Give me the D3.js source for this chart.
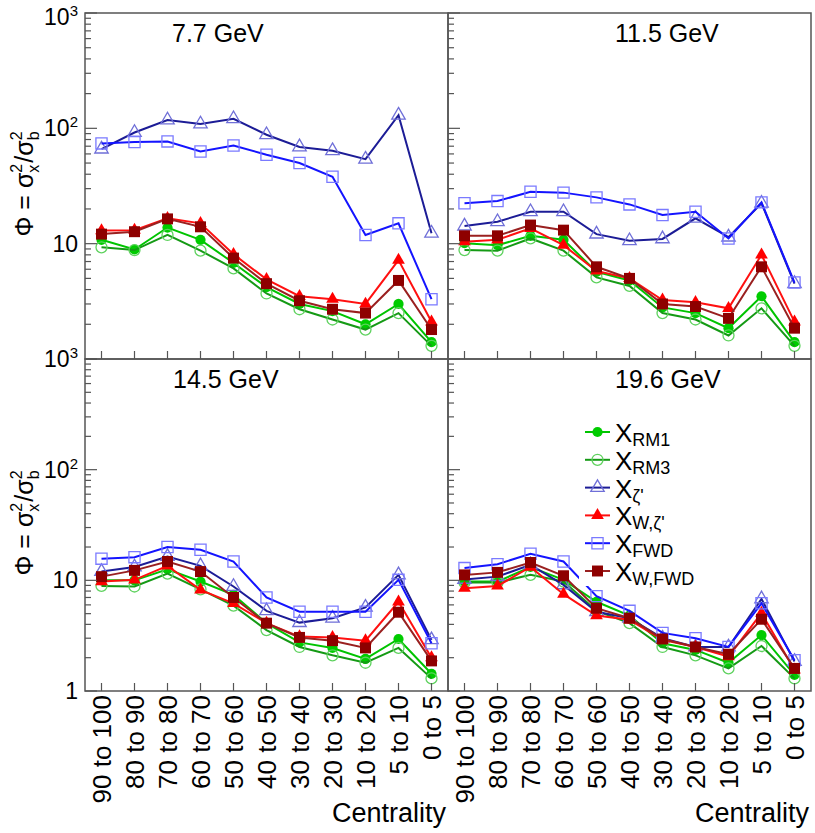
<!DOCTYPE html>
<html>
<head>
<meta charset="utf-8">
<script src="https://cdnjs.cloudflare.com/ajax/libs/d3/7.8.5/d3.min.js"></script>
<style>
	body { margin: 0; background: #fff; }
	svg { font-family: 'Liberation Sans', Arial, Helvetica, sans-serif; }
</style>
</head>
<body>
<svg id="chart" width="815" height="833"></svg>
<script>
/** DATA **/
let categories = ['90 to 100', '80 to 90', '70 to 80', '60 to 70', '50 to 60', '40 to 50',
	'30 to 40', '20 to 30', '10 to 20', '5 to 10', '0 to 5'];
let energies = ['7.7 GeV', '11.5 GeV', '14.5 GeV', '19.6 GeV'];
let seriesSubs = ['RM1', 'RM3', "ζ'", "W,ζ'", 'FWD', 'W,FWD'];
let yTicks = [1, 10, 100, 1000];

// 7.7 GeV
let rm1_77   = [10.8, 8.9, 13.8, 10.8, 6.8, 4.2, 3.0, 2.6, 2.0, 3.0, 1.4];
let rm3_77   = [9.3, 8.8, 11.9, 8.7, 6.1, 3.7, 2.7, 2.2, 1.8, 2.5, 1.3];
let zeta_77  = [66, 92, 118, 109, 121, 88, 69, 64, 54, 130, 12.3];
let wzeta_77 = [13.0, 13.1, 16.6, 15.0, 8.1, 4.9, 3.5, 3.3, 3.0, 7.2, 2.1];
let fwd_77   = [74, 76, 77, 63, 71, 59, 50, 38, 11.9, 15, 3.3];
let wfwd_77  = [12.1, 12.7, 16.4, 14.0, 7.5, 4.5, 3.2, 2.7, 2.5, 4.8, 1.8];

// 11.5 GeV
let rm1_115   = [10.1, 9.7, 11.7, 10.8, 5.7, 4.8, 2.8, 2.5, 1.85, 3.5, 1.4];
let rm3_115   = [8.8, 8.7, 11.1, 8.7, 5.1, 4.3, 2.5, 2.2, 1.6, 2.75, 1.3];
let zeta_115  = [14.2, 15.5, 18.9, 18.9, 12.1, 10.6, 11.0, 16.6, 11.4, 22.4, 4.5];
let wzeta_115 = [10.4, 10.8, 13.6, 9.7, 5.8, 5.0, 3.25, 3.1, 2.75, 8.0, 2.1];
let fwd_115   = [22.4, 23.4, 28.2, 27.7, 25.2, 21.9, 17.7, 18.9, 11.1, 22.8, 4.6];
let wfwd_115  = [11.7, 11.7, 14.5, 13.1, 6.3, 5.0, 3.0, 2.85, 2.25, 6.3, 1.85];

// 14.5 GeV
let rm1_145   = [10.0, 10.0, 12.6, 9.75, 7.4, 4.1, 2.75, 2.45, 1.95, 2.95, 1.43];
let rm3_145   = [8.9, 8.8, 11.5, 8.3, 5.9, 3.55, 2.5, 2.1, 1.8, 2.45, 1.3];
let zeta_145  = [12.0, 13.2, 16.4, 13.5, 8.8, 5.3, 4.15, 4.55, 5.7, 11.2, 2.9];
let wzeta_145 = [9.75, 10.1, 13.5, 8.2, 6.2, 4.1, 3.1, 3.05, 2.85, 6.4, 2.0];
let fwd_145   = [15.7, 16.2, 20.0, 18.9, 14.8, 7.0, 5.2, 5.2, 5.2, 10.1, 2.7];
let wfwd_145  = [10.8, 12.3, 14.8, 12.0, 7.0, 4.1, 3.05, 2.85, 2.45, 5.15, 1.87];

// 19.6 GeV
let rm1_196   = [9.75, 9.75, 13.2, 10.1, 6.4, 4.8, 2.7, 2.35, 1.8, 3.2, 1.4];
let rm3_196   = [9.55, 9.55, 11.2, 9.75, 5.3, 4.1, 2.5, 2.1, 1.6, 2.55, 1.3];
let zeta_196  = [10.2, 10.8, 13.8, 9.1, 5.2, 4.55, 3.0, 2.5, 2.5, 6.8, 1.85];
let wzeta_196 = [8.5, 8.9, 13.2, 7.5, 4.8, 4.4, 2.9, 2.5, 2.05, 5.05, 1.55];
let fwd_196   = [12.9, 14.0, 17.4, 14.8, 7.2, 5.3, 3.35, 3.0, 2.5, 6.2, 1.9];
let wfwd_196  = [11.2, 11.8, 14.5, 11.0, 5.6, 4.55, 2.95, 2.5, 2.15, 4.45, 1.6];

let panelData = [
	[rm1_77, rm3_77, zeta_77, wzeta_77, fwd_77, wfwd_77],
	[rm1_115, rm3_115, zeta_115, wzeta_115, fwd_115, wfwd_115],
	[rm1_145, rm3_145, zeta_145, wzeta_145, fwd_145, wfwd_145],
	[rm1_196, rm3_196, zeta_196, wzeta_196, fwd_196, wfwd_196]
];

/** STYLES **/
let styles = [
	{line: '#00c400', marker: 'circle', fill: '#00cc00', stroke: '#00cc00'},
	{line: '#159a15', marker: 'circle', fill: 'none', stroke: '#5fd25f'},
	{line: '#1c1c96', marker: 'triangle', fill: 'none', stroke: '#6f6fd8'},
	{line: '#ff1010', marker: 'triangle', fill: '#ff0000', stroke: '#ff0000'},
	{line: '#1414ff', marker: 'square', fill: 'none', stroke: '#7a7aff'},
	{line: '#9a2020', marker: 'square', fill: '#8e0000', stroke: '#8e0000'}
];

let panels = [
	{x0: 85, x1: 448, y0: 13, y1: 359, labels: true, bottom: false},
	{x0: 448, x1: 811, y0: 13, y1: 359, labels: false, bottom: false},
	{x0: 85, x1: 448, y0: 359, y1: 691, labels: true, bottom: true},
	{x0: 448, x1: 811, y0: 359, y1: 691, labels: false, bottom: true}
];

let svg = d3.select('#chart');

// marker path
function markerPath(type, filled) {
	if (type === 'circle') return d3.symbol().type(d3.symbolCircle).size(filled ? 82 : 95)();
	if (type === 'triangle') return d3.symbol().type(d3.symbolTriangle).size(filled ? 70 : 78)();
	return d3.symbol().type(d3.symbolSquare).size(filled ? 120 : 125)();
}

panels.forEach(function(p, pi) {
	let x = d3.scalePoint().domain(categories).range([p.x0, p.x1]).padding(0.5);
	let y = d3.scaleLog().domain([1, 1000]).range([p.y1, p.y0]);
	let g = svg.append('g').attr('class', 'panel');

	// series lines and markers
	panelData[pi].forEach(function(vals, si) {
		let st = styles[si];
		let line = d3.line()
			.x(function(d, i) { return x(categories[i]); })
			.y(function(d) { return y(d); });
		g.append('path')
			.datum(vals)
			.attr('d', line)
			.attr('fill', 'none')
			.attr('stroke', st.line)
			.attr('stroke-width', 2);
		g.selectAll('.m' + si)
			.data(vals)
			.enter()
			.append('path')
			.attr('class', 'm' + si)
			.attr('transform', function(d, i) { return 'translate(' + x(categories[i]) + ',' + y(d) + ')'; })
			.attr('d', markerPath(st.marker, st.fill !== 'none'))
			.attr('fill', st.fill)
			.attr('stroke', st.stroke)
			.attr('stroke-width', st.fill === 'none' ? 1.3 : 0);
	});

	// legend box covers lines in last panel
	if (pi === 3) {
		g.append('rect')
			.attr('x', 579).attr('y', 412)
			.attr('width', 195).attr('height', 174)
			.attr('fill', '#fff');
	}

	// frame
	g.append('rect')
		.attr('x', p.x0).attr('y', p.y0)
		.attr('width', p.x1 - p.x0).attr('height', p.y1 - p.y0)
		.attr('fill', 'none')
		.attr('stroke', '#555')
		.attr('stroke-width', 1.5);

	// x ticks
	g.selectAll('.xt')
		.data(categories)
		.enter()
		.append('line')
		.attr('x1', function(d) { return x(d); })
		.attr('x2', function(d) { return x(d); })
		.attr('y1', p.y1)
		.attr('y2', p.y1 - 8)
		.attr('stroke', '#555')
		.attr('stroke-width', 1.2);

	// y ticks (major + minor)
	let minor = [];
	for (let dec = 1; dec < 1000; dec *= 10) {
		for (let k = 2; k <= 9; k++) minor.push(dec * k);
	}
	g.selectAll('.ymin')
		.data(minor)
		.enter()
		.append('line')
		.attr('x1', p.x0).attr('x2', p.x0 + 6)
		.attr('y1', function(d) { return y(d); })
		.attr('y2', function(d) { return y(d); })
		.attr('stroke', '#555')
		.attr('stroke-width', 1.2);
	g.selectAll('.ymaj')
		.data(yTicks)
		.enter()
		.append('line')
		.attr('x1', p.x0).attr('x2', p.x0 + 12)
		.attr('y1', function(d) { return y(d); })
		.attr('y2', function(d) { return y(d); })
		.attr('stroke', '#555')
		.attr('stroke-width', 1.2);

	// y tick labels
	if (p.labels) {
		let lab = p.bottom ? yTicks : yTicks.slice(1);
		lab.forEach(function(v) {
			// keep the very top label inside the page
			let shift = (v === 1000 && !p.bottom) ? 4 : 0;
			let t = g.append('text')
				.attr('x', 78)
				.attr('y', y(v) + shift)
				.attr('dy', '0.35em')
				.attr('text-anchor', 'end')
				.style('font-size', '23px');
			if (v === 1 || v === 10) {
				t.text(String(v));
			} else {
				t.append('tspan').text('10');
				t.append('tspan').attr('dy', -9).style('font-size', '15px').text(String(Math.log10(v)));
			}
		});
		createYTitle(g, 33, (p.y0 + p.y1) / 2 - 2);
	}

	// x tick labels + title
	if (p.bottom) {
		g.selectAll('.xl')
			.data(categories)
			.enter()
			.append('text')
			.attr('transform', function(d) { return 'translate(' + x(d) + ',' + (p.y1 + 4) + ') rotate(-90)'; })
			.attr('dy', '0.36em')
			.attr('text-anchor', 'end')
			.style('font-size', '26px')
			.text(function(d) { return d; });
		g.append('text')
			.attr('x', p.x1 - 2)
			.attr('y', 822)
			.attr('text-anchor', 'end')
			.style('font-size', '27px')
			.text('Centrality');
	}

	// panel title
	let titleX = [172, 615, 173, 615][pi];
	g.append('text')
		.attr('x', titleX)
		.attr('y', p.y0 + 29)
		.style('font-size', '25px')
		.text(energies[pi]);
});

createLegend();

// Phi = sigma_x^2 / sigma_b^2 rotated title
function createYTitle(g, bx, cy) {
	let t = g.append('g');
	let cur = 0;
	function piece(str, size, dy) {
		let el = t.append('text')
			.attr('x', cur)
			.attr('y', dy)
			.style('font-size', size + 'px')
			.text(str);
		return el.node().getComputedTextLength();
	}
	cur += piece('Φ = σ', 25, 0);
	let w1 = piece('2', 16, -11);
	let w2 = piece('x', 16, 6);
	cur += Math.max(w1, w2) + 1;
	cur += piece('/σ', 25, 0);
	w1 = piece('2', 16, -11);
	w2 = piece('b', 16, 6);
	cur += Math.max(w1, w2);
	t.attr('transform', 'translate(' + bx + ',' + (cy + cur / 2) + ') rotate(-90)');
}

function createLegend() {
	let lg = svg.append('g').attr('class', 'legend');
	seriesSubs.forEach(function(sub, i) {
		let st = styles[i];
		let ry = 432 + i * 27.8;
		lg.append('line')
			.attr('x1', 585).attr('x2', 610)
			.attr('y1', ry).attr('y2', ry)
			.attr('stroke', st.line)
			.attr('stroke-width', 2);
		lg.append('path')
			.attr('transform', 'translate(597.5,' + ry + ')')
			.attr('d', markerPath(st.marker, st.fill !== 'none'))
			.attr('fill', st.fill)
			.attr('stroke', st.stroke)
			.attr('stroke-width', st.fill === 'none' ? 1.3 : 0);
		let t = lg.append('text')
			.attr('x', 615)
			.attr('y', ry + 10)
			.style('font-size', '26px');
		t.append('tspan').text('X');
		t.append('tspan').attr('dy', 4).style('font-size', '18px').text(sub);
	});
}
</script>
</body>
</html>
